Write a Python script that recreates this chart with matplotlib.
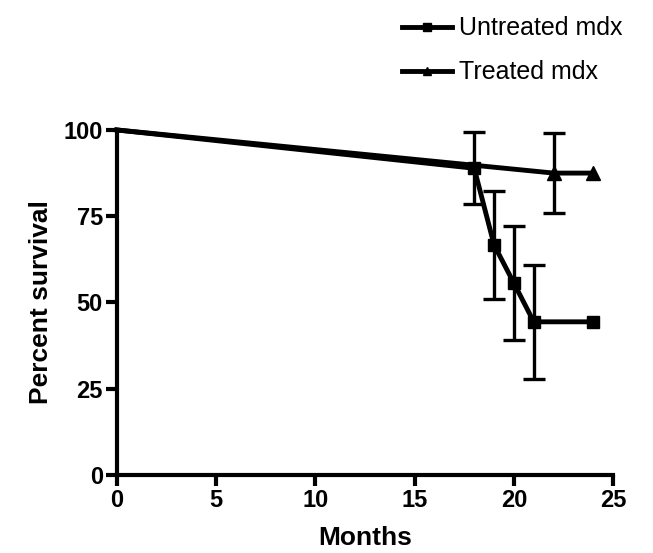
import matplotlib.pyplot as plt
import numpy as np

plt.rcParams['font.family'] = ['Liberation Sans', 'DejaVu Sans']

# survival data (months, percent)
untreated_x = [0, 18, 19, 20, 21, 24]
untreated_y = [100, 88.9, 66.7, 55.6, 44.4, 44.4]
untreated_err = [0, 10.5, 15.7, 16.6, 16.6, 0]

treated_x = [0, 22, 24]
treated_y = [100, 87.5, 87.5]
treated_err = [0, 11.7, 0]

fig = plt.figure(figsize=(6.53, 5.53), dpi=100)
ax = fig.add_axes([0.179, 0.141, 0.760, 0.624])

ux = np.array(untreated_x)
uy = np.array(untreated_y)
ue = np.array(untreated_err)
tx = np.array(treated_x)
ty = np.array(treated_y)
te = np.array(treated_err)

# no marker at the starting point
ax.plot(ux, uy, color='black', lw=3.5, marker='s', markersize=9,
        markevery=list(range(1, len(ux))),
        label='Untreated mdx', clip_on=False, zorder=3)
ax.plot(tx, ty, color='black', lw=3.5, marker='^', markersize=10,
        markevery=list(range(1, len(tx))),
        label='Treated mdx', clip_on=False, zorder=3)

m = ue > 0
ax.errorbar(ux[m], uy[m], yerr=ue[m], fmt='none', ecolor='black',
            elinewidth=2.4, capsize=8, capthick=2.4, clip_on=False, zorder=2)
m = te > 0
ax.errorbar(tx[m], ty[m], yerr=te[m], fmt='none', ecolor='black',
            elinewidth=2.4, capsize=8, capthick=2.4, clip_on=False, zorder=2)

ax.set_xlim(0, 25)
ax.set_ylim(0, 100)
ax.set_xticks([0, 5, 10, 15, 20, 25])
ax.set_yticks([0, 25, 50, 75, 100])

for s in ['top', 'right']:
    ax.spines[s].set_visible(False)
for s in ['left', 'bottom']:
    ax.spines[s].set_linewidth(3)

ax.tick_params(direction='out', length=8, width=3, labelsize=17, pad=2)
for lab in ax.get_xticklabels() + ax.get_yticklabels():
    lab.set_fontweight('bold')

ax.set_xlabel('Months', fontsize=19, fontweight='bold', labelpad=10)
ax.set_ylabel('Percent survival', fontsize=19, fontweight='bold', labelpad=8)

fig.legend(loc='upper left', bbox_to_anchor=(0.59, 1.0), frameon=False,
           fontsize=18, handlelength=2.0, handletextpad=0.3, labelspacing=0.8,
           markerscale=0.6, borderaxespad=0.25)

fig.savefig('out.png', dpi=100)
